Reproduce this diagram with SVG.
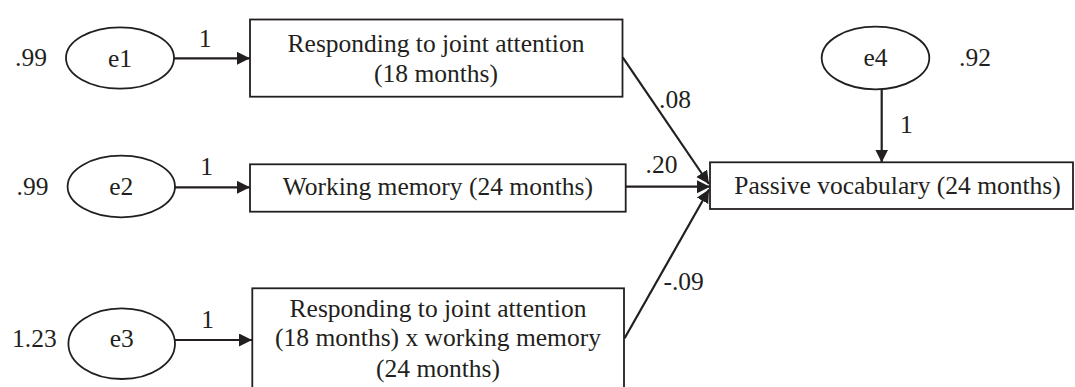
<svg xmlns="http://www.w3.org/2000/svg" width="1075" height="387" viewBox="0 0 1075 387">
<style>
text{font-family:"Liberation Serif","Times New Roman",serif;font-size:25.5px;fill:#231f20}
.c{text-anchor:middle}
.n{fill:#fff;stroke:#231f20;stroke-width:1.8}
.e{stroke:#231f20;stroke-width:2.2;fill:none}
</style>
<defs>
<marker id="ah" markerUnits="userSpaceOnUse" markerWidth="14" markerHeight="14" refX="13" refY="6.5" orient="auto">
<path d="M0,0 L13,6.5 L0,13 z" fill="#231f20"/>
</marker>
</defs>
<rect width="1075" height="387" fill="#fff"/>
<g id="connectors">
<line class="e" x1="174" y1="58.3" x2="250" y2="58.3" marker-end="url(#ah)"/>
<line class="e" x1="175" y1="187.3" x2="250" y2="187.3" marker-end="url(#ah)"/>
<line class="e" x1="175" y1="340" x2="252" y2="340" marker-end="url(#ah)"/>
<line class="e" x1="881.7" y1="89.3" x2="881.7" y2="162.5" marker-end="url(#ah)"/>
<line class="e" x1="622.7" y1="57.3" x2="709" y2="184" marker-end="url(#ah)"/>
<line class="e" x1="625.7" y1="186.7" x2="710" y2="186.7" marker-end="url(#ah)"/>
<line class="e" x1="624.6" y1="338.3" x2="709" y2="189.5" marker-end="url(#ah)"/>
<text class="c" x="205" y="46.7">1</text>
<text class="c" x="206.5" y="175">1</text>
<text class="c" x="207.5" y="328">1</text>
<text x="900" y="133.3">1</text>
<text x="659" y="108.3">.08</text>
<text x="645.5" y="173.3">.20</text>
<text x="663.5" y="290">-.09</text>
</g>
<g id="e1">
<ellipse class="n" cx="120" cy="58" rx="54" ry="30.7"/>
<text class="c" x="120" y="66.5">e1</text>
<text x="15" y="65.5">.99</text>
</g>
<g id="e2">
<ellipse class="n" cx="121.3" cy="186.5" rx="53.7" ry="30.8"/>
<text class="c" x="121.3" y="194.5">e2</text>
<text x="16.5" y="195">.99</text>
</g>
<g id="e3">
<ellipse class="n" cx="121.7" cy="343.7" rx="53.3" ry="35.3"/>
<text class="c" x="121.7" y="347.3">e3</text>
<text x="12" y="347.3">1.23</text>
</g>
<g id="e4">
<ellipse class="n" cx="875.5" cy="58" rx="53.8" ry="31.3"/>
<text class="c" x="875.5" y="66">e4</text>
<text x="959" y="66">.92</text>
</g>
<g id="rja">
<rect class="n" x="250" y="19.5" width="372.5" height="77.2"/>
<text class="c" x="436" y="52.3">Responding to joint attention</text>
<text class="c" x="436" y="81.7">(18 months)</text>
</g>
<g id="wm">
<rect class="n" x="250" y="164.3" width="375.7" height="47.4"/>
<text class="c" x="437.8" y="195">Working memory (24 months)</text>
</g>
<g id="inter">
<rect class="n" x="252.3" y="288.3" width="371.7" height="120"/>
<text class="c" x="438" y="317.3">Responding to joint attention</text>
<text class="c" x="438" y="345.7">(18 months) x working memory</text>
<text class="c" x="438" y="376.7">(24 months)</text>
</g>
<g id="pv">
<rect class="n" x="710" y="162.3" width="363" height="46.7"/>
<text x="734.3" y="194">Passive vocabulary (24 months)</text>
</g>
</svg>
